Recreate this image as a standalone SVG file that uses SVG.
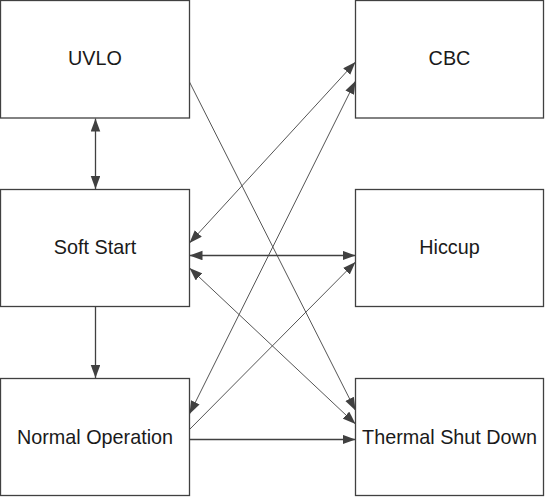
<svg xmlns="http://www.w3.org/2000/svg" width="545" height="497" viewBox="0 0 545 497">
<style>
.box{fill:#fff;stroke:#404040;stroke-width:1.3}
.lbl{font-family:"Liberation Sans",Arial,sans-serif;font-size:19.8px;fill:#1a1a1a;text-anchor:middle}
.c{stroke:#555;stroke-width:1;fill:none}
.cv{stroke:#404040;stroke-width:1.3;fill:none}
</style>
<defs>
<marker id="ah" markerUnits="userSpaceOnUse" markerWidth="14" markerHeight="10" refX="13" refY="4.75" orient="auto-start-reverse" viewBox="0 0 14 10">
<path d="M0,0 L13,4.75 L0,9.5 z" fill="#404040"/>
</marker>
</defs>
<rect width="545" height="497" fill="#fff"/>
<g id="connectors">
<line class="cv" x1="95.5" y1="118.5" x2="95.5" y2="189" marker-start="url(#ah)" marker-end="url(#ah)"/>
<line class="cv" x1="95.5" y1="307" x2="95.5" y2="378" marker-end="url(#ah)"/>
<line class="c" x1="189.5" y1="82" x2="355.5" y2="410.5" marker-end="url(#ah)"/>
<line class="c" x1="189.5" y1="243" x2="355.5" y2="62" marker-start="url(#ah)" marker-end="url(#ah)"/>
<line class="c" x1="189.5" y1="414" x2="355.5" y2="81" marker-start="url(#ah)" marker-end="url(#ah)"/>
<line class="cv" x1="189.5" y1="255.5" x2="355.5" y2="255.5" marker-start="url(#ah)" marker-end="url(#ah)"/>
<line class="c" x1="189.5" y1="268" x2="355.5" y2="424" marker-start="url(#ah)" marker-end="url(#ah)"/>
<line class="c" x1="189.5" y1="429.5" x2="355.5" y2="262" marker-end="url(#ah)"/>
<line class="cv" x1="189.5" y1="439.5" x2="355.5" y2="439.5" marker-end="url(#ah)"/>
</g>
<g id="uvlo"><rect class="box" x="0.5" y="0.5" width="189" height="117.5"/><text class="lbl" x="95" y="65">UVLO</text></g>
<g id="softstart"><rect class="box" x="0.5" y="189.5" width="189" height="117"/><text class="lbl" x="95" y="254">Soft Start</text></g>
<g id="normal"><rect class="box" x="0.5" y="378.5" width="189" height="117"/><text class="lbl" x="95" y="443.5">Normal Operation</text></g>
<g id="cbc"><rect class="box" x="355.5" y="0.5" width="188" height="117.5"/><text class="lbl" x="449.5" y="65">CBC</text></g>
<g id="hiccup"><rect class="box" x="355.5" y="189.5" width="188" height="117"/><text class="lbl" x="449.5" y="254">Hiccup</text></g>
<g id="thermal"><rect class="box" x="355.5" y="378.5" width="188" height="117"/><text class="lbl" x="449.5" y="443.5">Thermal Shut Down</text></g>
</svg>
